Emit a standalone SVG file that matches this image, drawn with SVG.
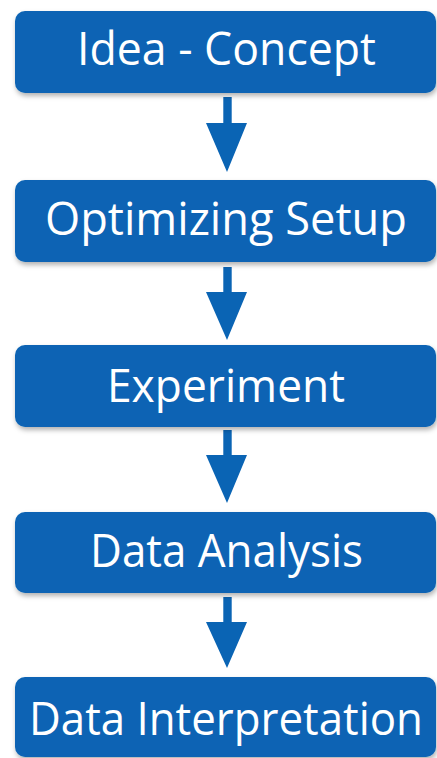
<svg xmlns="http://www.w3.org/2000/svg" width="437" height="758" viewBox="0 0 437 758">
<defs>
<filter id="sh" x="-5%" y="-10%" width="115%" height="130%">
<feDropShadow dx="1" dy="3" stdDeviation="2.5" flood-color="#000" flood-opacity="0.3"/>
</filter>
<style>
.box{fill:#0a64b4;filter:url(#sh)}
.lbl{fill:#fff;font-family:"Open Sans","Noto Sans",sans-serif;font-size:46px;text-anchor:middle}
.arr{fill:#0a64b4}
</style>
</defs>
<rect width="437" height="758" fill="#fff"/>
<g id="connectors">
<path class="arr" d="M223.3 97H231.7V123H247L227 172L206 123H223.3Z"/>
<path class="arr" d="M223.3 267H231.7V292H247L227 340L206 292H223.3Z"/>
<path class="arr" d="M223.3 430H231.7V455H247L227 503L206 455H223.3Z"/>
<path class="arr" d="M223.3 597H231.7V622H247L227 668L206 622H223.3Z"/>
</g>
<g id="n1"><rect class="box" x="15" y="11" width="421" height="82" rx="10"/><text class="lbl" x="226.5" y="65" textLength="299" lengthAdjust="spacingAndGlyphs">Idea - Concept</text></g>
<g id="n2"><rect class="box" x="15" y="180" width="421" height="82" rx="10"/><text class="lbl" x="226" y="235" textLength="362" lengthAdjust="spacingAndGlyphs">Optimizing Setup</text></g>
<g id="n3"><rect class="box" x="15" y="345" width="421" height="82" rx="10"/><text class="lbl" x="226" y="402" textLength="238" lengthAdjust="spacingAndGlyphs">Experiment</text></g>
<g id="n4"><rect class="box" x="15" y="512" width="421" height="81" rx="10"/><text class="lbl" x="226.5" y="567" textLength="273" lengthAdjust="spacingAndGlyphs">Data Analysis</text></g>
<g id="n5"><rect class="box" x="15" y="677" width="421" height="80" rx="10"/><text class="lbl" x="226" y="735" textLength="394" lengthAdjust="spacingAndGlyphs">Data Interpretation</text></g>
</svg>
